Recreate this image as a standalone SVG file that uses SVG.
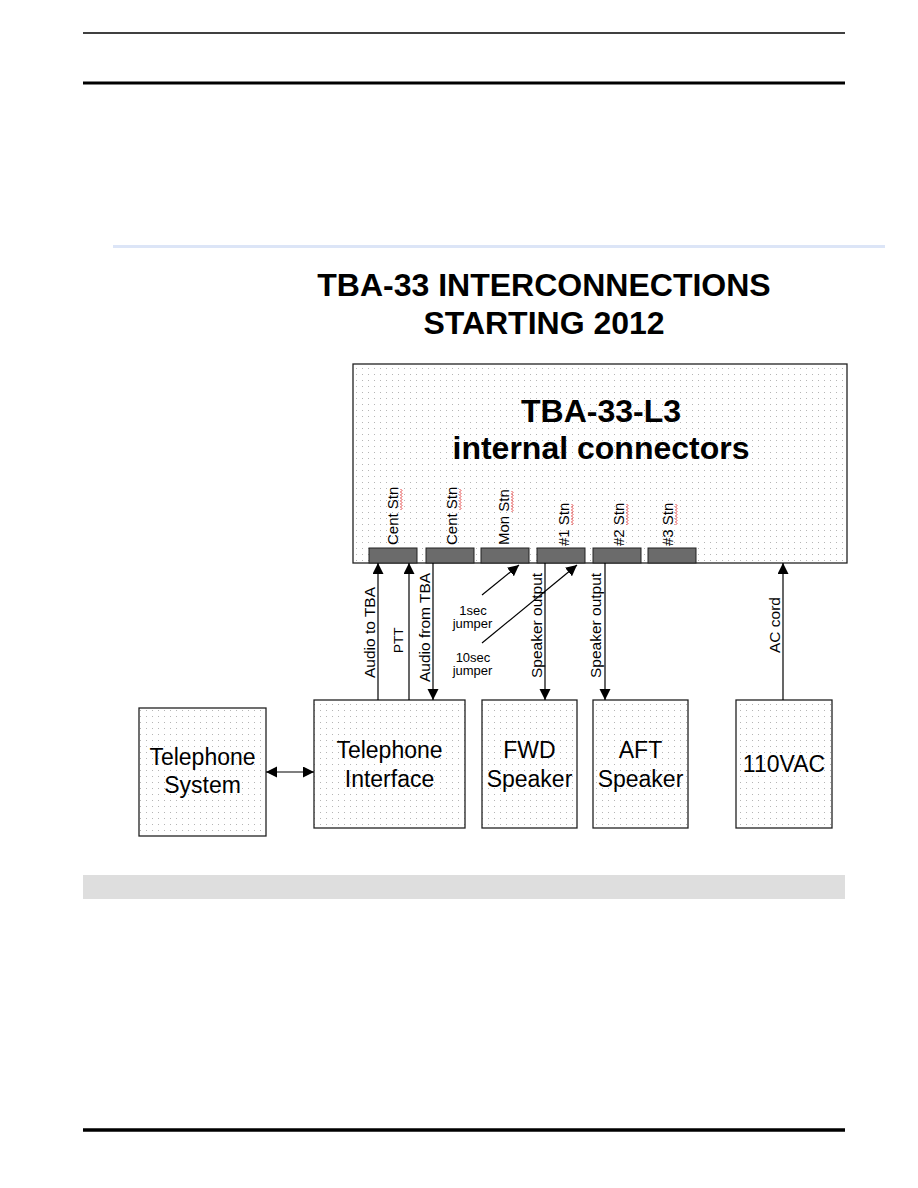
<svg xmlns="http://www.w3.org/2000/svg" width="918" height="1188" viewBox="0 0 918 1188">
<style>
  .box{fill:url(#dots);stroke:#222;stroke-width:1.3}
  .blk{fill:#6b6b6b;stroke:#222;stroke-width:1}
  .t{font-family:"Liberation Sans",Arial,sans-serif;fill:#000}
  .big{font-size:32px;font-weight:bold;text-anchor:middle}
  .node{font-size:23px;text-anchor:middle}
  .lbl{font-size:15.5px}
  .stn{font-size:15px}
  .jmp{font-size:13px;text-anchor:middle}
  .wire{stroke:#000;stroke-width:1.2;fill:none}
  .arr{marker-end:url(#ah)}
  .sq{stroke:#e03030;stroke-width:0.9;fill:none}
</style>
<defs>
  <pattern id="dots" width="6" height="6" patternUnits="userSpaceOnUse">
    <rect width="6" height="6" fill="#ffffff"/>
    <rect x="2" y="2" width="1" height="1" fill="#b5b5b5"/>
  </pattern>
  <marker id="ah" markerWidth="12" markerHeight="12" refX="11" refY="5.5" orient="auto-start-reverse" markerUnits="userSpaceOnUse">
    <path d="M0,0 L11,5.5 L0,11 z" fill="#000"/>
  </marker>
</defs>
<rect width="918" height="1188" fill="#ffffff"/>

<g id="page">
  <line x1="83" y1="33" x2="845" y2="33" stroke="#000" stroke-width="1.3"/>
  <line x1="83" y1="83" x2="845" y2="83" stroke="#000" stroke-width="3"/>
  <line x1="113" y1="246.5" x2="885" y2="246.5" stroke="#dce5f7" stroke-width="3"/>
  <rect x="83" y="875" width="762" height="24" fill="#dedede"/>
  <line x1="83" y1="1130" x2="845" y2="1130" stroke="#000" stroke-width="3.5"/>
</g>

<g id="title">
  <text class="t big" x="544" y="296">TBA-33 INTERCONNECTIONS</text>
  <text class="t big" x="544" y="334">STARTING 2012</text>
</g>

<g id="tba33">
  <rect class="box" x="353" y="364" width="494" height="199"/>
  <text class="t big" x="601" y="422">TBA-33-L3</text>
  <text class="t big" x="601" y="459">internal connectors</text>
  <rect class="blk" x="369" y="548" width="48" height="15"/>
  <rect class="blk" x="426" y="548" width="48" height="15"/>
  <rect class="blk" x="481" y="548" width="48" height="15"/>
  <rect class="blk" x="537" y="548" width="48" height="15"/>
  <rect class="blk" x="593" y="548" width="48" height="15"/>
  <rect class="blk" x="648" y="548" width="48" height="15"/>
  <g transform="translate(398,545) rotate(-90)">
    <text class="t stn" x="0" y="0">Cent Stn</text>
    <path class="sq" d="M35,2.5 l1.5,1.5 l1.5,-1.5 l1.5,1.5 l1.5,-1.5 l1.5,1.5 l1.5,-1.5 l1.5,1.5 l1.5,-1.5 l1.5,1.5 l1.5,-1.5 l1.5,1.5 l1.5,-1.5 l1.5,1.5 l1.5,-1.5"/>
  </g>
  <g transform="translate(457,545) rotate(-90)">
    <text class="t stn" x="0" y="0">Cent Stn</text>
    <path class="sq" d="M35,2.5 l1.5,1.5 l1.5,-1.5 l1.5,1.5 l1.5,-1.5 l1.5,1.5 l1.5,-1.5 l1.5,1.5 l1.5,-1.5 l1.5,1.5 l1.5,-1.5 l1.5,1.5 l1.5,-1.5 l1.5,1.5 l1.5,-1.5"/>
  </g>
  <g transform="translate(509,545) rotate(-90)">
    <text class="t stn" x="0" y="0">Mon Stn</text>
    <path class="sq" d="M33,2.5 l1.5,1.5 l1.5,-1.5 l1.5,1.5 l1.5,-1.5 l1.5,1.5 l1.5,-1.5 l1.5,1.5 l1.5,-1.5 l1.5,1.5 l1.5,-1.5 l1.5,1.5 l1.5,-1.5 l1.5,1.5 l1.5,-1.5"/>
  </g>
  <g transform="translate(569,546) rotate(-90)">
    <text class="t stn" x="0" y="0">#1 Stn</text>
    <path class="sq" d="M21,2.5 l1.5,1.5 l1.5,-1.5 l1.5,1.5 l1.5,-1.5 l1.5,1.5 l1.5,-1.5 l1.5,1.5 l1.5,-1.5 l1.5,1.5 l1.5,-1.5 l1.5,1.5 l1.5,-1.5 l1.5,1.5 l1.5,-1.5"/>
  </g>
  <g transform="translate(624,546) rotate(-90)">
    <text class="t stn" x="0" y="0">#2 Stn</text>
    <path class="sq" d="M21,2.5 l1.5,1.5 l1.5,-1.5 l1.5,1.5 l1.5,-1.5 l1.5,1.5 l1.5,-1.5 l1.5,1.5 l1.5,-1.5 l1.5,1.5 l1.5,-1.5 l1.5,1.5 l1.5,-1.5 l1.5,1.5 l1.5,-1.5"/>
  </g>
  <g transform="translate(673,546) rotate(-90)">
    <text class="t stn" x="0" y="0">#3 Stn</text>
    <path class="sq" d="M21,2.5 l1.5,1.5 l1.5,-1.5 l1.5,1.5 l1.5,-1.5 l1.5,1.5 l1.5,-1.5 l1.5,1.5 l1.5,-1.5 l1.5,1.5 l1.5,-1.5 l1.5,1.5 l1.5,-1.5 l1.5,1.5 l1.5,-1.5"/>
  </g>
</g>

<g id="telephone-system">
  <rect class="box" x="139" y="708" width="127" height="128"/>
  <text class="t node" x="202.5" y="765">Telephone</text>
  <text class="t node" x="202.5" y="793">System</text>
</g>

<g id="telephone-interface">
  <rect class="box" x="314" y="700" width="151" height="128"/>
  <text class="t node" x="389.5" y="758">Telephone</text>
  <text class="t node" x="389.5" y="787">Interface</text>
</g>

<g id="fwd-speaker">
  <rect class="box" x="482" y="700" width="95" height="128"/>
  <text class="t node" x="529.5" y="758">FWD</text>
  <text class="t node" x="529.5" y="787">Speaker</text>
</g>

<g id="aft-speaker">
  <rect class="box" x="593" y="700" width="95" height="128"/>
  <text class="t node" x="640.5" y="758">AFT</text>
  <text class="t node" x="640.5" y="787">Speaker</text>
</g>

<g id="ac-110vac">
  <rect class="box" x="736" y="700" width="96" height="128"/>
  <text class="t node" x="784" y="772">110VAC</text>
</g>

<g id="connectors">
  <line class="wire arr" x1="378" y1="700" x2="378" y2="563"/>
  <line class="wire arr" x1="409" y1="700" x2="409" y2="563"/>
  <line class="wire arr" x1="433" y1="563" x2="433" y2="700"/>
  <line class="wire arr" x1="482" y1="595" x2="519" y2="565"/>
  <line class="wire arr" x1="482" y1="643" x2="577" y2="565"/>
  <line class="wire arr" x1="545" y1="563" x2="545" y2="700"/>
  <line class="wire arr" x1="605" y1="563" x2="605" y2="700"/>
  <line class="wire arr" x1="783" y1="700" x2="783" y2="563"/>
  <line class="wire" x1="266" y1="772" x2="314" y2="772" marker-start="url(#ah)" marker-end="url(#ah)"/>

  <text class="t lbl" transform="translate(375,678) rotate(-90)">Audio to TBA</text>
  <text class="t" font-size="13.5" transform="translate(403,653) rotate(-90)">PTT</text>
  <text class="t lbl" transform="translate(430,682) rotate(-90)">Audio from TBA</text>
  <text class="t lbl" transform="translate(542,678) rotate(-90)">Speaker output</text>
  <text class="t lbl" transform="translate(601,678) rotate(-90)">Speaker output</text>
  <text class="t lbl" transform="translate(780,653) rotate(-90)">AC cord</text>

  <text class="t jmp" x="473" y="615">1sec</text>
  <text class="t jmp" x="472.5" y="628">jumper</text>
  <text class="t jmp" x="473" y="662">10sec</text>
  <text class="t jmp" x="472.5" y="675">jumper</text>
</g>
</svg>
